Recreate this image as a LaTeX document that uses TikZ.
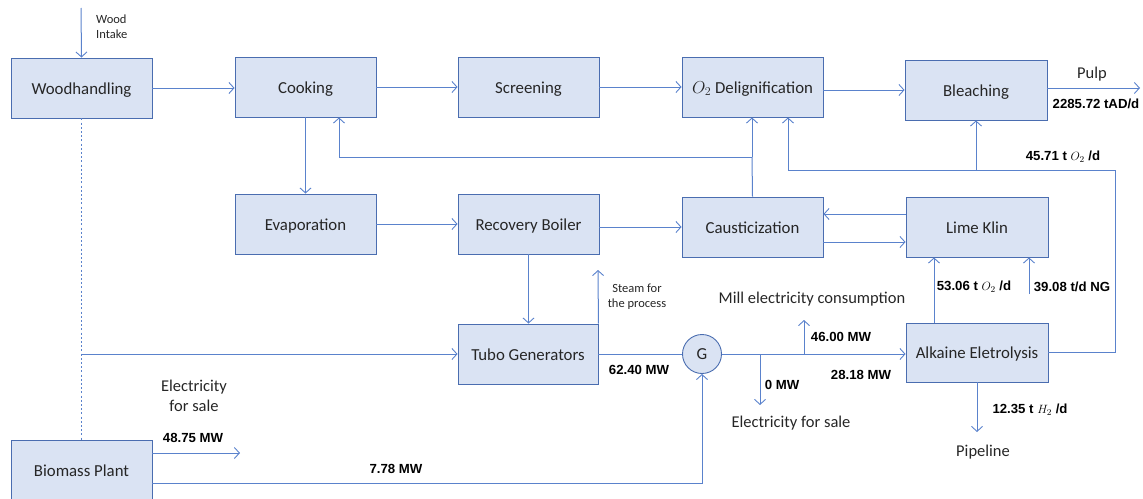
\documentclass[tikz,border=0pt]{standalone}
\usepackage{fontspec}
\setmainfont{Carlito}
\newfontfamily\lblfont{Liberation Sans}
\usetikzlibrary{arrows.meta,calc}
\definecolor{boxf}{HTML}{DAE3F3}
\definecolor{boxc}{HTML}{4A6DB0}
\definecolor{linec}{HTML}{5A82CC}
\definecolor{txt}{HTML}{262626}
\tikzset{
  blk/.style={draw=boxc, fill=boxf, line width=0.9pt, minimum width=141pt,
    minimum height=60pt, inner sep=0pt, text height=12.5pt, text depth=0pt,
    text=txt, font=\fontsize{16.8}{19}\selectfont},
  conn/.style={draw=linec, line width=1pt},
  flow/.style={conn, -{Straight Barb[length=5pt,width=11pt,line width=0.9pt]}},
  dotline/.style={draw=linec, line width=1.4pt, dash pattern=on 2pt off 2.2pt},
  lbl/.style={text=txt, font=\fontsize{16.5}{20}\selectfont, inner sep=0pt, align=center},
  small/.style={text=txt, font=\fontsize{12.5}{15}\selectfont, inner sep=0pt, align=center},
  val/.style={text=black, font=\lblfont\bfseries\fontsize{13.2}{15}\selectfont, inner sep=0pt}
}
\begin{document}
\begin{tikzpicture}[x=1pt,y=-1pt]
\useasboundingbox (0,0) rectangle (1143,498);

% process blocks
\node[blk] (wood)   at (81.5,88)  {Woodhandling};
\node[blk] (cook)   at (305.5,87) {Cooking};
\node[blk] (screen) at (528.5,87) {Screening};
\node[blk] (delig)  at (752.5,87) {$O_2$ Delignification};
\node[blk,minimum width=142pt] (bleach) at (976,90) {Bleaching};
\node[blk] (evap)   at (305.5,224) {Evaporation};
\node[blk] (recov)  at (528.5,224) {Recovery Boiler};
\node[blk] (caust)  at (752.5,227) {Causticization};
\node[blk,minimum width=142pt] (lime) at (977,227) {Lime Klin};
\node[blk,minimum width=140pt] (tubo) at (528,354) {Tubo Generators};
\node[blk,minimum width=142pt,minimum height=59pt] (elec) at (977,352.5) {Alkaine Eletrolysis};
\node[blk] (bio)    at (81.5,470) {Biomass Plant};
\node[draw=boxc, fill=boxf, line width=0.9pt, circle, minimum size=39pt, inner sep=0pt,
      text=txt, font=\fontsize{16.8}{19}\selectfont] (gen) at (702,354) {G};

% free ends
\coordinate (win)   at (81,8);
\coordinate (pulp)  at (1140,88);
\coordinate (fb1)   at (752,157);
\coordinate (fb1l)  at (339,157);
\coordinate (o2r)   at (1115,170);
\coordinate (o2l)   at (788,170);
\coordinate (steam) at (598,270);
\coordinate (sale)  at (760,405);
\coordinate (mill)  at (804,320);
\coordinate (ng)    at (1029,294);
\coordinate (pipe)  at (976,432);
\coordinate (bsale) at (240,453);
\coordinate (bg)    at (702,483);
\coordinate (wj)    at (wood.south |- tubo.west);

% fibre line
\draw[flow] (win) -- (wood.north);
\draw[flow] (wood.east) -- (wood.east -| cook.west);
\draw[flow] (cook.east) -- (screen.west);
\draw[flow] (screen.east) -- (screen.east -| delig.west);
\draw[flow] (bleach.west -| delig.east) -- (bleach.west);
\draw[flow] (bleach.east |- pulp) -- (pulp);
\draw[flow] (cook.south) -- (evap.north);

% liquor cycle
\draw[flow] (evap.east) -- (evap.east -| recov.west);
\draw[flow] (caust.west -| recov.east) -- (caust.west);
\draw[flow] ([yshift=13pt]lime.west) -- ([yshift=13pt]lime.west -| caust.east);
\draw[flow] ([yshift=-15pt]caust.east) -- ([yshift=-15pt]lime.west);
\draw[conn] (caust.north) -- (fb1);
\draw[flow] (fb1) -- (fb1 |- delig.south);
\draw[flow] (fb1) -- (fb1l) -- (fb1l |- cook.south);

% oxygen supply
\draw[conn] (elec.east) -| (o2r) -- (o2l);
\draw[flow] (o2l) -- (o2l |- delig.south);
\draw[flow] (bleach.south |- o2r) -- (bleach.south);

% energy
\draw[flow] (recov.south) -- (recov.south |- tubo.north);
\draw[flow] (tubo.north east) -- (steam);
\draw[dotline] (wood.south) -- (bio.north);
\draw[flow] (wj) -- (tubo.west);
\draw[conn] (tubo.east) -- (tubo.east -| gen.west);
\draw[flow] (gen.east) -- (gen.east -| elec.west);
\draw[flow] (sale |- gen.east) -- (sale);
\draw[flow] (mill |- gen.east) -- (mill);
\draw[flow] ([xshift=-43pt]elec.north) -- ([xshift=-43pt]lime.south);
\draw[flow] (ng) -- (ng |- lime.south);
\draw[flow] (elec.south) -- (elec.south |- pipe);
\draw[flow] (bio.east |- bsale) -- (bsale);
\draw[flow] (bio.east |- bg) -| (gen.south);

% labels
\node[small,anchor=west,align=left] (winl) at (96,27) {Wood\\Intake};
\node[lbl] (pulpl) at (1092,74) {Pulp};
\node[val] (pulpv) at (1096,104) {2285.72 tAD/d};
\node[val] (o2v) at (1063,157) {45.71 t $O_2$ /d};
\node[small] (steaml) at (637,297) {Steam for\\the process};
\node[val] (tgv) at (639,370) {62.40 MW};
\node[lbl] (milll) at (812,299) {Mill electricity consumption};
\node[val] (millv) at (841,337) {46.00 MW};
\node[val] (salev) at (782,385) {0 MW};
\node[val] (elv) at (861,375) {28.18 MW};
\node[lbl] (salel) at (791,423) {Electricity for sale};
\node[val] (limeo2) at (974,287) {53.06 t $O_2$ /d};
\node[val] (ngv) at (1072,287) {39.08 t/d NG};
\node[val] (h2v) at (1030,410) {12.35 t $H_2$ /d};
\node[lbl] (pipel) at (983,452) {Pipeline};
\node[lbl] (bsalel) at (194,396) {Electricity\\for sale};
\node[val] (bsalev) at (193,438) {48.75 MW};
\node[val] (bgv) at (396,469) {7.78 MW};
\end{tikzpicture}
\end{document}
